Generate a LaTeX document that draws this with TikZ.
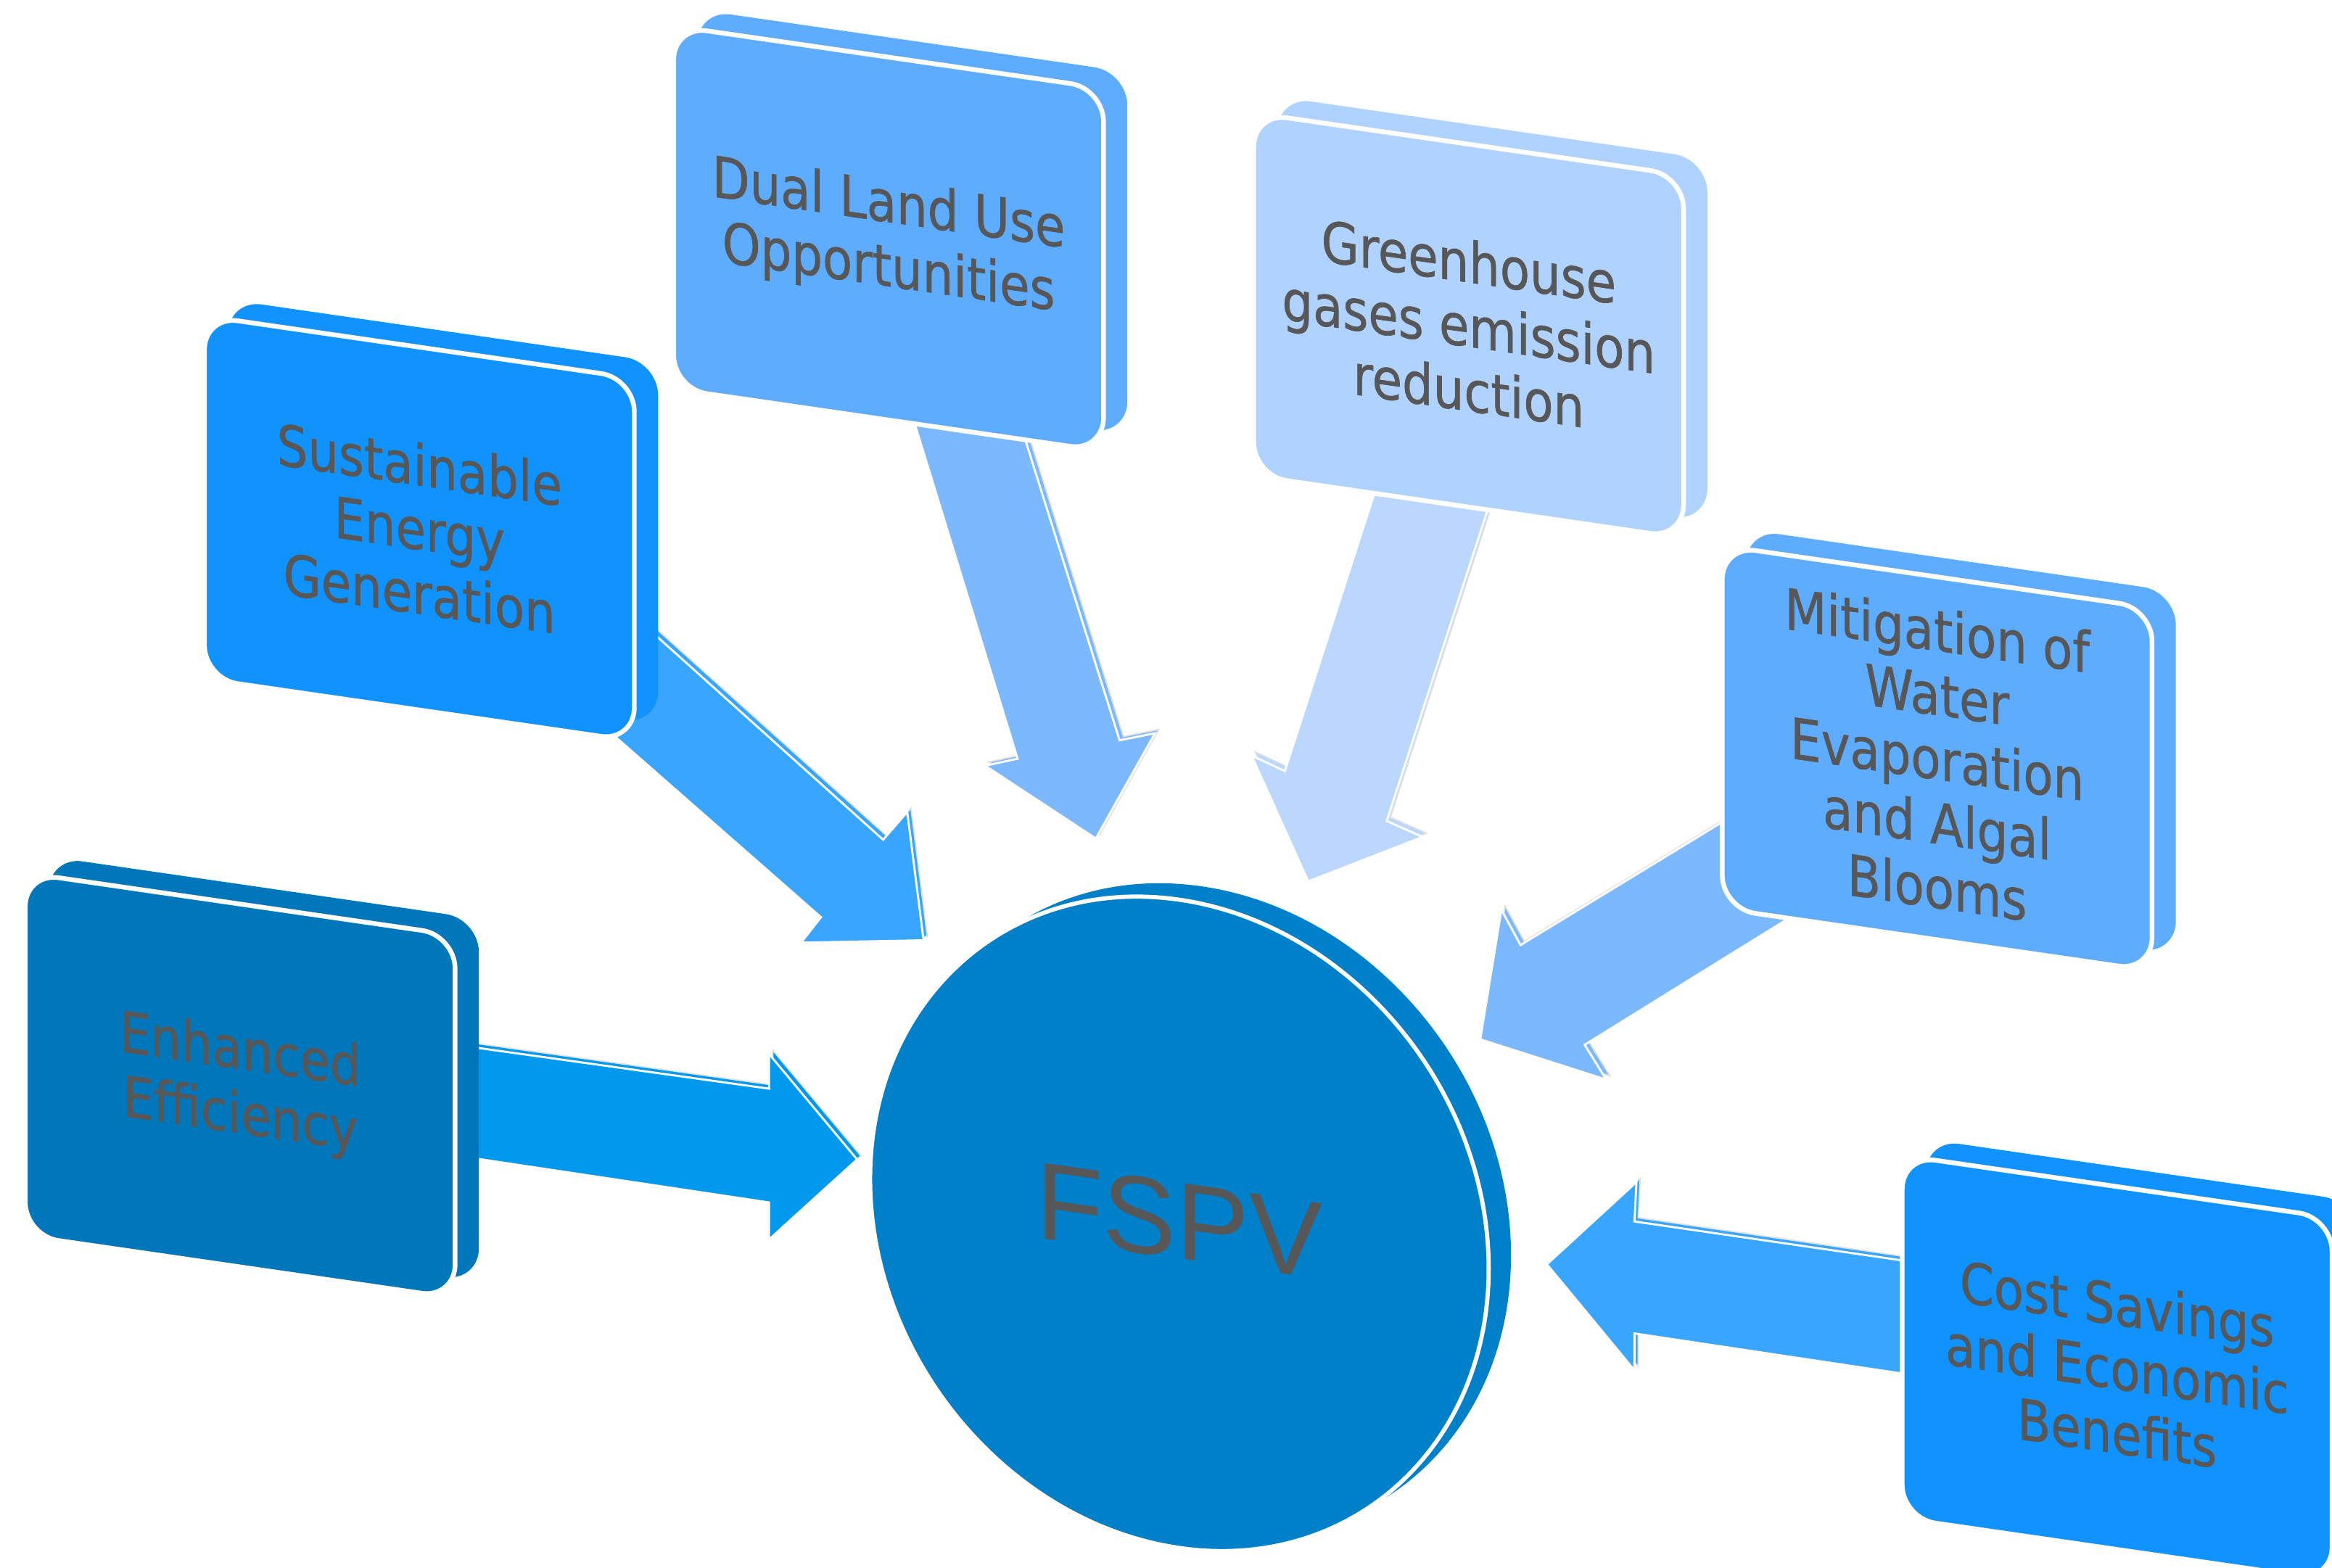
\documentclass[tikz,border=0pt]{standalone}
\usepackage{fontspec}
\setmainfont{DejaVu Sans}[FakeStretch=0.86, FakeBold=0.8]
\newfontfamily\hubfont{Liberation Sans}
\usepackage{tikz}

\definecolor{effblue}{HTML}{0077BB}
\definecolor{susblue}{HTML}{1092FF}
\definecolor{midblue}{HTML}{5EACFE}
\definecolor{paleblue}{HTML}{B0D2FE}
\definecolor{hubblue}{HTML}{0080C8}
\definecolor{arrdeep}{HTML}{0099EE}
\definecolor{arrbright}{HTML}{38A5FE}
\definecolor{arrsoft}{HTML}{7CB8FE}
\definecolor{arrpale}{HTML}{BCD7FE}
\definecolor{labelgrey}{HTML}{575757}

\begin{document}
\begin{tikzpicture}[
    x=0.02cm, y=-0.02cm,
    plate/.style={fill=#1, draw=white, line width=1.8pt, rounded corners=0.45cm,
        preaction={fill=#1, draw=none, transform canvas={xshift=0.32cm, yshift=0.22cm}}},
    blockarrow/.style={fill=#1, draw=white, line width=0.8pt,
        preaction={fill=#1, draw=black!12, line width=0.5pt,
            transform canvas={xshift=0.05cm, yshift=0.05cm}}},
    boxtext/.style={align=center, inner sep=0pt, text=labelgrey, transform shape,
        font=\fontsize{21.7}{24.6}\selectfont},
    hub/.style={fill=hubblue, draw=white, line width=1.6pt,
        preaction={fill=hubblue, draw=none, transform canvas={xshift=0.30cm, yshift=0.18cm}}}
]
    \useasboundingbox (0,0) rectangle (1568,1054);

    % Arrows
    \draw[blockarrow=arrdeep] (310,703.1) -- (517.1,732.1) -- (517.1,708.8) -- (576.3,779.7)
        -- (517.1,833.5) -- (517.1,808.6) -- (310,777.6) -- cycle;
    \draw[blockarrow=arrbright] (430,417.5) -- (593.8,564.7) -- (610,546) -- (621,632.3)
        -- (538.6,633.9) -- (552,616.8) -- (400,483.4) -- cycle;
    \draw[blockarrow=arrsoft] (612,275) -- (684.2,510.2) -- (662.4,514.9) -- (736.8,563.9)
        -- (776.6,493.1) -- (752.8,497.8) -- (686,285) -- cycle;
    \draw[blockarrow=arrpale] (926.3,324.9) -- (863.9,518.5) -- (841.5,508.1) -- (879.6,592.7)
        -- (956.5,562.8) -- (932.4,552.1) -- (1002.2,336.9) -- cycle;
    \draw[blockarrow=arrsoft] (1168.3,546.5) -- (1022.4,635.5) -- (1009.5,611.8) -- (995.3,698.9)
        -- (1080,726) -- (1065.5,702.6) -- (1213.2,611) -- cycle;
    \draw[blockarrow=arrbright] (1290,849.2) -- (1099,821.4) -- (1100.3,794.9) -- (1040.1,850.2)
        -- (1099,921.5) -- (1099,896.7) -- (1290,925.3) -- cycle;

    % Boxes
    \foreach \name/\x/\y/\col/\txt in {
        eff/17/587/effblue/{Enhanced\\Efficiency},
        sus/137.5/212.5/susblue/{Sustainable\\Energy\\Generation},
        dual/453/17.5/midblue/{Dual Land Use\\Opportunities},
        ghg/843/76/paleblue/{Greenhouse\\gases emission\\reduction},
        mit/1158/367/midblue/{Mitigation of\\Water\\Evaporation\\and Algal\\Blooms},
        cost/1279/777/susblue/{Cost Savings\\and Economic\\Benefits}} {
        \begin{scope}[shift={(\x,\y)}, yslant=-0.145]
            \draw[plate=\col] (0,0) -- (289,0) -- (289,244) -- (0,244) -- cycle;
            \node[boxtext] (\name) at (144.5,122) {\txt};
        \end{scope}
    }

    % Centre
    \begin{scope}[shift={(793,823)}, yslant=-0.145]
        \draw[hub] (0,0) ellipse [x radius=4.16cm, y radius=4.36cm];
        \node[transform shape, text=labelgrey, font=\hubfont\fontsize{42}{42}\selectfont]
            (fspv) at (0,-2) {FSPV};
    \end{scope}
\end{tikzpicture}
\end{document}
